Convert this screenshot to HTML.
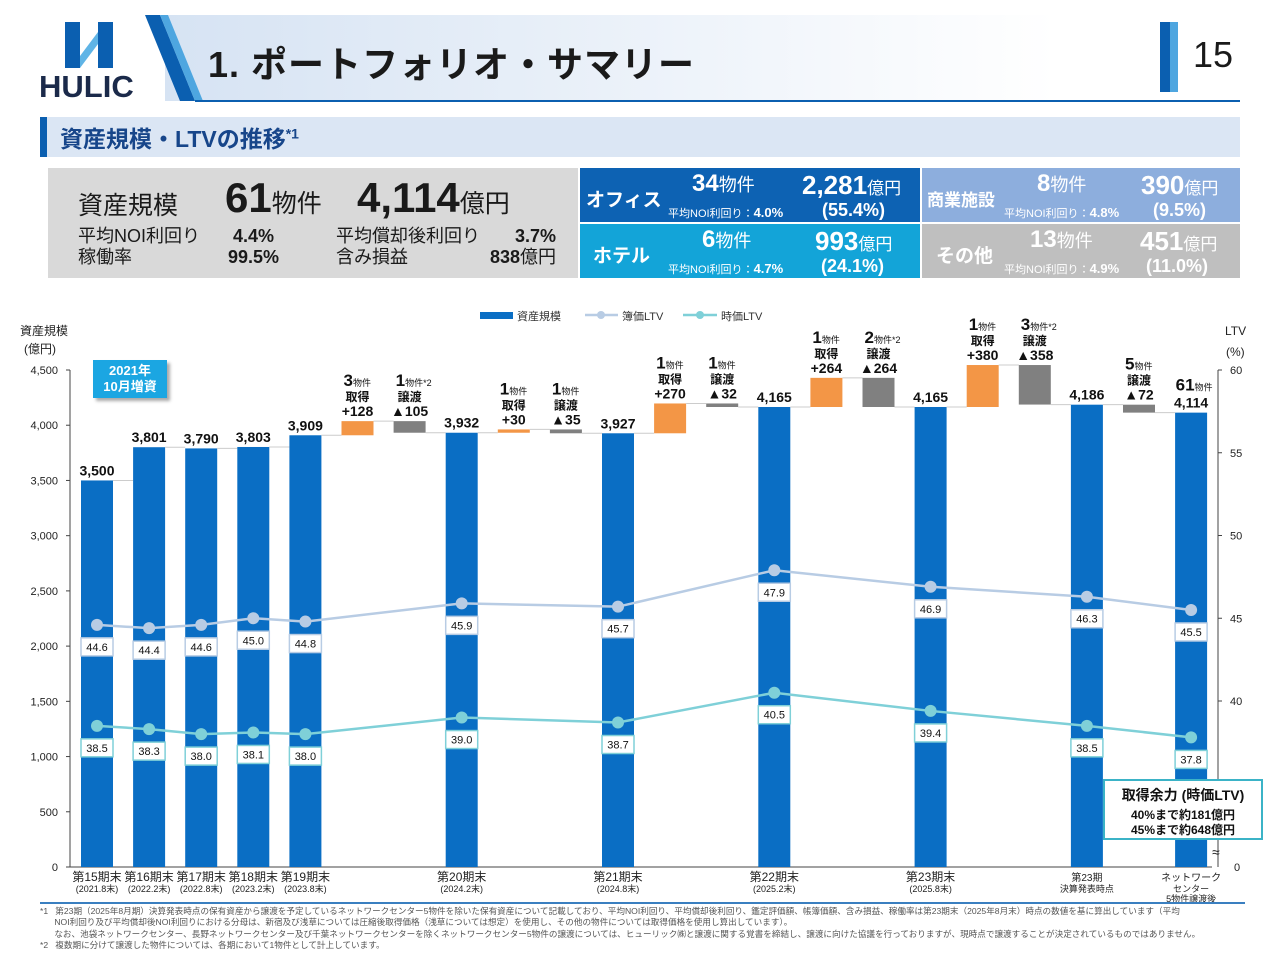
<!DOCTYPE html>
<html><head><meta charset="utf-8">
<style>
body{margin:0;width:1280px;height:960px;overflow:hidden;background:#fff;font-family:"Liberation Sans","Noto Sans CJK JP",sans-serif;position:relative}
.a{position:absolute}
.w{color:#fff;font-weight:bold;white-space:nowrap}
</style></head><body>
<!-- header -->
<div class="a" style="left:165px;top:15px;width:990px;height:86px;background:linear-gradient(90deg,#d6e3f3,#ffffff 90%)"></div>
<svg class="a" style="left:0;top:0" width="1280" height="160">
<g>
<rect x="65" y="22" width="15" height="46" fill="#0b5fb0"/>
<rect x="98" y="22" width="15" height="46" fill="#0b5fb0"/>
<polygon points="80,56 98,32 98,44 80,68" fill="#5fb4e6"/>
<text x="39" y="97" font-size="31" font-weight="bold" fill="#1b2a4a" font-family="Liberation Sans">HULIC</text>
</g>
<polygon points="145,15 160,15 195,101 180,101" fill="#0b5fb0"/>
<polygon points="160,15 168,15 203,101 195,101" fill="#4ea6e0"/>
<rect x="195" y="100" width="1045" height="2" fill="#0b5fb0"/>
<rect x="1160" y="22" width="10" height="70" fill="#0b5fb0"/><rect x="1170" y="22" width="8" height="70" fill="#4ea6e0"/>
</svg>
<div class="a" style="left:208px;top:36px;font-size:36px;font-weight:bold;color:#1a1a1a;letter-spacing:1px">1. ポートフォリオ・サマリー</div>
<div class="a" style="left:1193px;top:34px;font-size:36px;color:#1a1a1a">15</div>
<div class="a" style="left:40px;top:117px;width:1200px;height:40px;background:#dbe6f4"></div>
<div class="a" style="left:40px;top:117px;width:7px;height:40px;background:#0b5fb0"></div>
<div class="a" style="left:60px;top:120px;font-size:23px;font-weight:bold;color:#17468a">資産規模・LTVの推移<sup style="font-size:14px">*1</sup></div>

<!-- summary -->
<div class="a" style="left:48px;top:168px;width:530px;height:110px;background:#d9d9d9;color:#1a1a1a">
 <div class="a" style="left:30px;top:18px;font-size:25px">資産規模</div>
 <div class="a" style="left:177px;top:6px;white-space:nowrap"><b style="font-size:42px">61</b><span style="font-size:25px">物件</span></div>
 <div class="a" style="left:309px;top:6px;white-space:nowrap"><b style="font-size:42px">4,114</b><span style="font-size:25px">億円</span></div>
 <div class="a" style="left:30px;top:58px;font-size:18px;line-height:21px">平均NOI利回り<br>稼働率</div>
 <div class="a" style="left:180px;top:58px;font-size:18px;line-height:21px;font-weight:bold">&nbsp;4.4%<br>99.5%</div>
 <div class="a" style="left:288px;top:58px;font-size:18px;line-height:21px">平均償却後利回り<br>含み損益</div>
 <div class="a" style="left:438px;top:58px;font-size:18px;line-height:21px;font-weight:bold;text-align:right;width:70px">3.7%<br>838<span style="font-weight:normal">億円</span></div>
</div>
<div class="a" style="left:580px;top:168px;width:340px;height:54px;background:#0d62b3"></div>
<div class="a" style="left:580px;top:224px;width:340px;height:54px;background:#13a4d8"></div>
<div class="a" style="left:922px;top:168px;width:318px;height:54px;background:#8daedd"></div>
<div class="a" style="left:922px;top:224px;width:318px;height:54px;background:#bfbfbf"></div>
<div class="a w" style="left:586px;top:185px;font-size:19px">オフィス</div>
<div class="a w" style="left:593px;top:241px;font-size:19px">ホテル</div>
<div class="a w" style="left:927px;top:186px;font-size:17px">商業施設</div>
<div class="a w" style="left:936px;top:241px;font-size:19px">その他</div>
<div class="a w" style="left:692px;top:170px;font-size:24px">34<span style="font-size:18px;font-weight:normal">物件</span></div>
<div class="a w" style="left:702px;top:226px;font-size:24px">6<span style="font-size:18px;font-weight:normal">物件</span></div>
<div class="a w" style="left:1037px;top:170px;font-size:24px">8<span style="font-size:18px;font-weight:normal">物件</span></div>
<div class="a w" style="left:1030px;top:226px;font-size:24px">13<span style="font-size:18px;font-weight:normal">物件</span></div>
<div class="a w" style="left:668px;top:205px;font-size:11px;font-weight:normal">平均NOI利回り：<b style="font-size:13px">4.0%</b></div>
<div class="a w" style="left:668px;top:261px;font-size:11px;font-weight:normal">平均NOI利回り：<b style="font-size:13px">4.7%</b></div>
<div class="a w" style="left:1004px;top:205px;font-size:11px;font-weight:normal">平均NOI利回り：<b style="font-size:13px">4.8%</b></div>
<div class="a w" style="left:1004px;top:261px;font-size:11px;font-weight:normal">平均NOI利回り：<b style="font-size:13px">4.9%</b></div>
<div class="a w" style="left:802px;top:170px;font-size:26px">2,281<span style="font-size:17px;font-weight:normal">億円</span></div>
<div class="a w" style="left:822px;top:200px;font-size:18px">(55.4%)</div>
<div class="a w" style="left:815px;top:226px;font-size:26px">993<span style="font-size:17px;font-weight:normal">億円</span></div>
<div class="a w" style="left:821px;top:256px;font-size:18px">(24.1%)</div>
<div class="a w" style="left:1141px;top:170px;font-size:26px">390<span style="font-size:17px;font-weight:normal">億円</span></div>
<div class="a w" style="left:1153px;top:200px;font-size:18px">(9.5%)</div>
<div class="a w" style="left:1140px;top:226px;font-size:26px">451<span style="font-size:17px;font-weight:normal">億円</span></div>
<div class="a w" style="left:1146px;top:256px;font-size:18px">(11.0%)</div>

<svg id="chart" class="a" style="left:0;top:290px" width="1280" height="620"></svg>

<div class="a" style="left:93px;top:360px;width:74px;height:38px;background:#1ba6e2;box-shadow:3px 3px 3px #aaa;color:#fff;font-weight:bold;font-size:13px;text-align:center;line-height:16px;padding-top:3px;box-sizing:border-box">2021年<br>10月増資</div>
<div class="a" style="left:1103px;top:779px;width:160px;height:61px;background:#fff;border:2px solid #3bb3c7;box-sizing:border-box;text-align:center;font-weight:bold;color:#111">
<div style="font-size:14px;margin-top:4px">取得余力 (時価LTV)</div>
<div style="font-size:12px;margin-top:3px;line-height:15px">40%まで約181億円<br>45%まで約648億円</div></div>

<div class="a" style="left:40px;top:902px;width:1205px;height:2px;background:#3a7fc0"></div>
<div class="a" style="left:40px;top:906px;font-size:8.6px;line-height:11.3px;color:#555;white-space:nowrap">
*1&nbsp;&nbsp;&nbsp;第23期（2025年8月期）決算発表時点の保有資産から譲渡を予定しているネットワークセンター5物件を除いた保有資産について記載しており、平均NOI利回り、平均償却後利回り、鑑定評価額、帳簿価額、含み損益、稼働率は第23期末（2025年8月末）時点の数値を基に算出しています（平均<br>
&nbsp;&nbsp;&nbsp;&nbsp;&nbsp;&nbsp;NOI利回り及び平均償却後NOI利回りにおける分母は、新宿及び浅草については圧縮後取得価格（浅草については想定）を使用し、その他の物件については取得価格を使用し算出しています）。<br>
&nbsp;&nbsp;&nbsp;&nbsp;&nbsp;&nbsp;なお、池袋ネットワークセンター、長野ネットワークセンター及び千葉ネットワークセンターを除くネットワークセンター5物件の譲渡については、ヒューリック㈱と譲渡に関する覚書を締結し、譲渡に向けた協議を行っておりますが、現時点で譲渡することが決定されているものではありません。<br>
*2&nbsp;&nbsp;&nbsp;複数期に分けて譲渡した物件については、各期において1物件として計上しています。</div>

<script>
const kinds=['bar','bar','bar','bar','bar','up','down','bar','up','down','bar','up','down','bar','up','down','bar','up','down','bar','down','bar'];
const values=[3500,3801,3790,3803,3909,128,105,3932,30,35,3927,270,32,4165,264,264,4165,380,358,4186,72,4114];
const counts=['','','','','','3','1','','1','1','','1','1','','1','2','','1','3','','5','61'];
const countStar=['','','','','','','*2','','','','','','','','','*2','','','*2','','',''];
const bookLTV=[44.6,44.4,44.6,45.0,44.8,45.9,45.7,47.9,46.9,46.3,45.5];
const marketLTV=[38.5,38.3,38.0,38.1,38.0,39.0,38.7,40.5,39.4,38.5,37.8];
const ltvIdx=[0,1,2,3,4,7,10,13,16,19,21];
const leftTicks=[0,500,1000,1500,2000,2500,3000,3500,4000,4500];
const rightTicks=[40,45,50,55,60];
const xLabels=[[0,'第15期末','(2021.8末)'],[1,'第16期末','(2022.2末)'],[2,'第17期末','(2022.8末)'],[3,'第18期末','(2023.2末)'],[4,'第19期末','(2023.8末)'],[7,'第20期末','(2024.2末)'],[10,'第21期末','(2024.8末)'],[13,'第22期末','(2025.2末)'],[16,'第23期末','(2025.8末)'],[19,'第23期','決算発表時点'],[21,'ネットワーク','センター','5物件譲渡後']];
const OY=290;
const svg=document.getElementById('chart');
const NS='http://www.w3.org/2000/svg';
const F='"Liberation Sans","Noto Sans CJK JP",sans-serif';
function yL(v){return 867-v*497/4500-OY;}
function yR(v){return 370+(60-v)*16.55-OY;}
function xC(i){return 97+i*52.1;}
function mk(t,a,p){const e=document.createElementNS(NS,t);for(const k in a)e.setAttribute(k,a[k]);(p||svg).appendChild(e);return e;}
function tx(x,y,s,a,p){const e=mk('text',Object.assign({x:x,y:y,'font-family':F},a),p);e.textContent=s;return e;}
// axes
let ax=mk('line',{x1:70,y1:yL(4500),x2:70,y2:yL(0),stroke:'#444'});

mk('line',{x1:70,y1:yL(0),x2:1212,y2:yL(0),stroke:'#444'});
let rx=mk('line',{x1:1218,y1:yR(60),x2:1218,y2:yL(0),stroke:'#444'});

leftTicks.forEach(v=>{mk('line',{x1:66,y1:yL(v),x2:70,y2:yL(v),stroke:'#444'});
 let t=tx(58,yL(v)+4,v.toLocaleString('en-US'),{'font-size':11,'text-anchor':'end',fill:'#222'});
 });
rightTicks.forEach(v=>{mk('line',{x1:1218,y1:yR(v),x2:1222,y2:yR(v),stroke:'#444'});
 let t=tx(1230,yR(v)+4,String(v),{'font-size':11,fill:'#222'});
 });
tx(1234,yL(0)+4,'0',{'font-size':11,fill:'#222'});
tx(1212,yL(0)-10,'≈',{'font-size':14,fill:'#222'});
tx(20,45,'資産規模',{'font-size':12,fill:'#222'});tx(24,63,'(億円)',{'font-size':12,fill:'#222'});
tx(1225,45,'LTV',{'font-size':12,fill:'#222'});tx(1226,66,'(%)',{'font-size':12,fill:'#222'});
// legend
let lg=mk('g',{});
mk('rect',{x:480,y:22,width:33,height:7,fill:'#0a6ec4'},lg);tx(517,30,'資産規模',{'font-size':11,fill:'#333'},lg);
mk('line',{x1:585,y1:25,x2:618,y2:25,stroke:'#b8cce4','stroke-width':2.5},lg);mk('circle',{cx:601,cy:25,r:4,fill:'#b8cce4'},lg);tx(622,30,'簿価LTV',{'font-size':11,fill:'#333'},lg);
mk('line',{x1:683,y1:25,x2:717,y2:25,stroke:'#7fd0d8','stroke-width':2.5},lg);mk('circle',{cx:700,cy:25,r:4,fill:'#7fd0d8'},lg);tx(721,30,'時価LTV',{'font-size':11,fill:'#333'},lg);
// bars
let level=0;const W=32;
kinds.forEach((k,i)=>{
 const v=values[i];let lo,hi,color;
 if(k==='bar'){lo=0;hi=v;color='#0a6ec4';}
 else if(k==='up'){lo=level;hi=level+v;color='#f39646';}
 else{lo=level-v;hi=level;color='#808080';}
 const prev=level;
 level=(k==='bar')?v:(k==='up'?hi:lo);
 if(i>0){mk('line',{x1:xC(i-1)+W/2,y1:yL(prev),x2:xC(i)-W/2,y2:yL(prev),stroke:'#ccc','stroke-width':1});}
 const r=mk('rect',{x:xC(i)-W/2,y:yL(hi),width:W,height:yL(lo)-yL(hi),fill:color});
 
 
 const top=yL(hi)-5;
 if(k==='bar'){
  const t=tx(xC(i),top,v.toLocaleString('en-US'),{'font-size':14,'font-weight':'bold','text-anchor':'middle',fill:'#111'});
  
  if(counts[i]){const c=tx(xC(i)+3,top-17,counts[i],{'font-size':17,'font-weight':'bold','text-anchor':'middle',fill:'#111'});
   const s=mk('tspan',{'font-size':9,'font-weight':'normal'},c);s.textContent='物件';}
 }else{
  const t=tx(xC(i),top,(k==='up'?'+':'▲')+v,{'font-size':14,'font-weight':'bold','text-anchor':'middle',fill:'#111'});
  
  tx(xC(i),top-15,k==='up'?'取得':'譲渡',{'font-size':12,'font-weight':'bold','text-anchor':'middle',fill:'#111'});
  const c=tx(xC(i)-14,top-30,counts[i],{'font-size':17,'font-weight':'bold',fill:'#111'});
  const s=mk('tspan',{'font-size':9,'font-weight':'normal'},c);s.textContent='物件'+countStar[i];
 }
});
// lines
function series(vals,color,name){
 const pts=vals.map((v,j)=>xC(ltvIdx[j])+','+yR(v)).join(' ');
 const pl=mk('polyline',{points:pts,fill:'none',stroke:color,'stroke-width':2.5});
 
 vals.forEach((v,j)=>{
  const x=xC(ltvIdx[j]),y=yR(v);
  const c=mk('circle',{cx:x,cy:y,r:6,fill:color});
  
  mk('rect',{x:x-16,y:y+13,width:32,height:18,fill:'#fff',stroke:color,'stroke-width':1.5});
  const t=tx(x,y+26,v.toFixed(1),{'font-size':11,'text-anchor':'middle',fill:'#111'});
  
 });
}
series(bookLTV,'#b8cce4','book-ltv');
series(marketLTV,'#7fd0d8','market-ltv');
// x labels
xLabels.forEach(l=>{
 const x=xC(l[0]);
 const small=l[0]>=19;
 const t=tx(x,591,l[1],{'font-size':small?10:12,'text-anchor':'middle',fill:'#222'});
 
 tx(x,602,l[2],{'font-size':9,'text-anchor':'middle',fill:'#222'});
 if(l[3])tx(x,612,l[3],{'font-size':9,'text-anchor':'middle',fill:'#222'});
});
</script>
</body></html>
